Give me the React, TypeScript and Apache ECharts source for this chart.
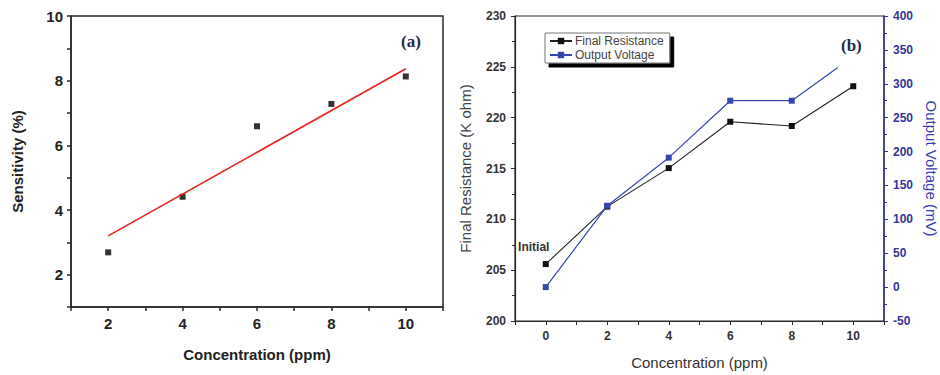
import React, { useEffect, useRef } from "react";
import * as echarts from "echarts";

const concA = [2, 4, 6, 8, 10];
const sensitivity = [2.69, 4.41, 6.59, 7.28, 8.13];
const fitX = [2, 10];
const fitY = [3.2, 8.37];

const concB = [0, 2, 4, 6, 8, 10];
const resistance = [205.6, 211.25, 215.04, 219.6, 219.18, 223.09];
const concV = [0, 2, 4, 6, 8, 9.5];
const voltage = [0, 120, 191, 275, 275, 324];

const seriesNames = ["Final Resistance", "Output Voltage"];
const panelLabels = ["(a)", "(b)"];

const SANS = "'Liberation Sans', Arial, sans-serif";
const BLUE_AX = "#34349c";
const BLUE_LINE = "#3646b0";

export default function App() {
  const ref = useRef<HTMLDivElement>(null);
  useEffect(() => {
    if (!ref.current) return;
    const chart = echarts.init(ref.current, null, { renderer: "svg" });
    const evenOnly = (v: number) => (Math.abs(v % 2) === 0 ? String(v) : "");
    const darkAxis = { onZero: false, lineStyle: { color: "#2a2a2a", width: 1.5 } };
    chart.setOption({
      animation: false,
      backgroundColor: "#fff",
      grid: [
        { left: 71, right: 497, top: 16, bottom: 68, show: true, borderColor: "#2a2a2a", borderWidth: 1.5 },
        { left: 515, right: 55, top: 16, bottom: 52, show: true, borderColor: "#2a2a2a", borderWidth: 1.2 },
      ],
      legend: {
        data: seriesNames,
        orient: "vertical",
        left: 545,
        top: 33,
        itemGap: 2,
        itemWidth: 22,
        itemHeight: 8,
        padding: [2, 6, 2, 4],
        backgroundColor: "#fff",
        borderColor: "#777",
        borderWidth: 1,
        borderRadius: 0,
        shadowColor: "rgba(0,0,0,1)",
        shadowOffsetX: 4,
        shadowOffsetY: 4,
        shadowBlur: 0,
        textStyle: { fontFamily: SANS, fontSize: 12, color: "#444", padding: [0, 0, 0, -2] },
      },
      xAxis: [
        {
          type: "value", gridIndex: 0, min: 1, max: 11, interval: 1,
          axisLine: darkAxis, axisTick: { length: 4, lineStyle: { color: "#2a2a2a", width: 1.5 } },
          splitLine: { show: false },
          axisLabel: { formatter: evenOnly, margin: 9, fontFamily: SANS, fontWeight: "bold", fontSize: 15, color: "#222" },
          name: "Concentration (ppm)", nameLocation: "middle", nameGap: 40,
          nameTextStyle: { fontFamily: SANS, fontWeight: "bold", fontSize: 15, color: "#222" },
        },
        {
          type: "value", gridIndex: 1, min: -1, max: 11, interval: 1,
          axisLine: { onZero: false, lineStyle: { color: "#2a2a2a", width: 1.2 } },
          axisTick: { length: 4, lineStyle: { color: "#2a2a2a" } },
          splitLine: { show: false },
          axisLabel: { formatter: evenOnly, margin: 9, fontFamily: SANS, fontWeight: "bold", fontSize: 12, color: "#333" },
          name: "Concentration (ppm)", nameLocation: "middle", nameGap: 34,
          nameTextStyle: { fontFamily: SANS, fontSize: 15, color: "#333" },
        },
      ],
      yAxis: [
        {
          type: "value", gridIndex: 0, min: 1, max: 10, interval: 1,
          axisLine: darkAxis, axisTick: { length: 4, lineStyle: { color: "#2a2a2a", width: 1.5 } },
          splitLine: { show: false },
          axisLabel: { formatter: evenOnly, margin: 8, fontFamily: SANS, fontWeight: "bold", fontSize: 15, color: "#222" },
          name: "Sensitivity (%)", nameLocation: "middle", nameGap: 46,
          nameTextStyle: { fontFamily: SANS, fontWeight: "bold", fontSize: 15, color: "#222" },
        },
        {
          type: "value", gridIndex: 1, min: 200, max: 230, interval: 5,
          axisLine: { show: true, onZero: false, lineStyle: { color: "#2a2a2a", width: 1.2 } },
          axisTick: { show: true, length: 4, lineStyle: { color: "#2a2a2a" } },
          minorTick: { show: true, splitNumber: 2, length: 3, lineStyle: { color: "#2a2a2a" } },
          splitLine: { show: false },
          axisLabel: { margin: 9, fontFamily: SANS, fontWeight: "bold", fontSize: 12, color: "#333" },
          name: "Final Resistance (K ohm)", nameLocation: "middle", nameGap: 42,
          nameTextStyle: { fontFamily: SANS, fontSize: 15, color: "#444" },
        },
        {
          type: "value", gridIndex: 1, position: "right", min: -50, max: 400, interval: 50,
          axisLine: { show: true, onZero: false, lineStyle: { color: BLUE_AX, width: 1.5 } },
          axisTick: { show: true, length: 4, lineStyle: { color: BLUE_AX } },
          minorTick: { show: true, splitNumber: 2, length: 3, lineStyle: { color: BLUE_AX } },
          splitLine: { show: false },
          axisLabel: { margin: 9, fontFamily: SANS, fontWeight: "bold", fontSize: 12, color: BLUE_AX },
          name: "Output Voltage (mV)", nameLocation: "middle", nameGap: 40, nameRotate: -90,
          nameTextStyle: { fontFamily: SANS, fontSize: 15, color: "#3a3ab4" },
        },
      ],
      graphic: [
        { type: "text", left: 401, top: 33, style: { text: panelLabels[0], font: "bold 17px 'Liberation Serif', serif", fill: "#1e2b4a" } },
        { type: "text", left: 841, top: 37, style: { text: panelLabels[1], font: "bold 17px 'Liberation Serif', serif", fill: "#1e2b4a" } },
      ],
      series: [
        {
          type: "scatter", xAxisIndex: 0, yAxisIndex: 0,
          data: concA.map((x, i) => [x, sensitivity[i]]),
          symbol: "rect", symbolSize: 6, itemStyle: { color: "#000" },
        },
        {
          type: "line", xAxisIndex: 0, yAxisIndex: 0,
          data: fitX.map((x, i) => [x, fitY[i]]),
          showSymbol: false, symbol: "none",
          lineStyle: { color: "#e8221c", width: 1.6 },
        },
        {
          name: seriesNames[0], type: "line", xAxisIndex: 1, yAxisIndex: 1,
          data: concB.map((x, i) =>
            i === 0
              ? {
                  value: [x, resistance[i]],
                  label: {
                    show: true, formatter: "Initial", position: "top", offset: [-12, -3],
                    fontFamily: SANS, fontWeight: "bold", fontSize: 12, color: "#333",
                  },
                }
              : [x, resistance[i]]
          ),
          symbol: "rect", symbolSize: 6,
          itemStyle: { color: "#111" },
          lineStyle: { color: "#222", width: 1.1 },
        },
        {
          name: seriesNames[1], type: "line", xAxisIndex: 1, yAxisIndex: 2,
          data: concV.map((x, i) =>
            i === concV.length - 1 ? { value: [x, voltage[i]], symbol: "none" } : [x, voltage[i]]
          ),
          symbol: "rect", symbolSize: 6,
          itemStyle: { color: BLUE_LINE },
          lineStyle: { color: BLUE_LINE, width: 1.2 },
        },
      ],
    });
    return () => chart.dispose();
  }, []);
  return <div ref={ref} style={{ position: "fixed", left: 0, top: 0, width: 940, height: 375 }} />;
}
